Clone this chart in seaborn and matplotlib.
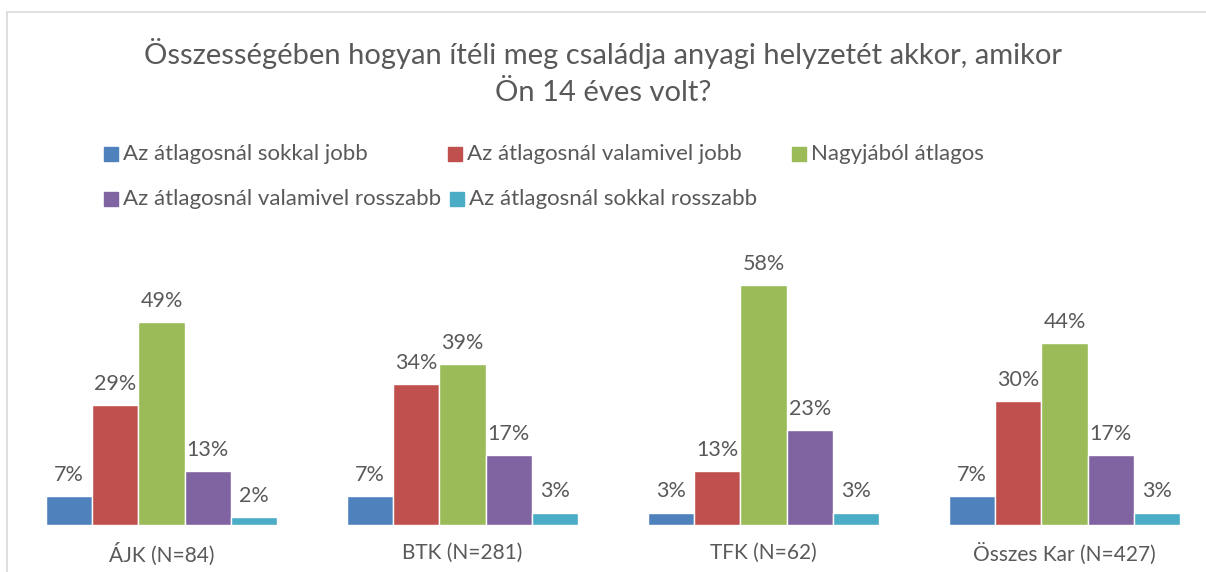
import pandas as pd
import matplotlib.pyplot as plt
import seaborn as sns
from matplotlib.patches import Rectangle

groups = ["ÁJK (N=84)", "BTK (N=281)", "TFK (N=62)", "Összes Kar (N=427)"]
series = ["Az átlagosnál sokkal jobb", "Az átlagosnál valamivel jobb",
          "Nagyjából átlagos", "Az átlagosnál valamivel rosszabb",
          "Az átlagosnál sokkal rosszabb"]
values = {
    "Az átlagosnál sokkal jobb":        [7, 7, 3, 7],
    "Az átlagosnál valamivel jobb":     [29, 34, 13, 30],
    "Nagyjából átlagos":                [49, 39, 58, 44],
    "Az átlagosnál valamivel rosszabb": [13, 17, 23, 17],
    "Az átlagosnál sokkal rosszabb":    [2, 3, 3, 3],
}
colors = ["#4F81BD", "#C0504D", "#9BBB59", "#8064A2", "#4BACC6"]
title = "Összességében hogyan ítéli meg családja anyagi helyzetét akkor, amikor\nÖn 14 éves volt?"

rows = []
for s in series:
    for g, v in zip(groups, values[s]):
        rows.append({"group": g, "series": s, "value": v})
df = pd.DataFrame(rows)

sns.set_style("white")
plt.rcParams["font.family"] = ["Lato", "DejaVu Sans"]
TXT = "#595959"

fig = plt.figure(figsize=(12.06, 5.72), dpi=100)
ax = fig.add_axes([0, 47 / 572, 1, 248 / 572])

sns.barplot(data=df, x="group", y="value", hue="series", hue_order=series,
            order=groups, palette=colors, width=0.77, gap=0, saturation=1,
            legend=False, ax=ax)

for cont in ax.containers:
    ax.bar_label(cont, fmt="%g%%", padding=8, fontsize=15.5, color=TXT, clip_on=False)

ax.set_xlim(-161.5 / 301, (1206 - 161.5) / 301)
ax.set_ylim(0, 60)
ax.set_xlabel("")
ax.set_ylabel("")
ax.set_yticks([])
ax.tick_params(axis="x", length=0, labelsize=15, labelcolor=TXT, pad=13)
sns.despine(ax=ax, left=True, bottom=True, top=True, right=True)

fig.text(0.5, 1 - 72 / 572, title, ha="center", va="center", fontsize=21,
         color=TXT, linespacing=1.5)

# legend laid out like the original (two rows)
leg_pos = [(104, 153.5), (448, 153.5), (792, 153.5), (104, 199), (450, 199)]
for (px, py), s, c in zip(leg_pos, series, colors):
    fig.patches.append(Rectangle((px / 1206, 1 - (py + 7) / 572), 14 / 1206, 14 / 572,
                                 transform=fig.transFigure, color=c))
    fig.text((px + 19) / 1206, 1 - py / 572, s, ha="left", va="center",
             fontsize=16, color=TXT)

# chart border
fig.add_artist(plt.Line2D([7 / 1206, 1], [1 - 12 / 572, 1 - 12 / 572],
                          transform=fig.transFigure, color="#D9D9D9", lw=1.2))
fig.add_artist(plt.Line2D([7 / 1206, 7 / 1206], [0, 1 - 12 / 572],
                          transform=fig.transFigure, color="#D9D9D9", lw=1.2))

fig.savefig("out.png", dpi=100)
